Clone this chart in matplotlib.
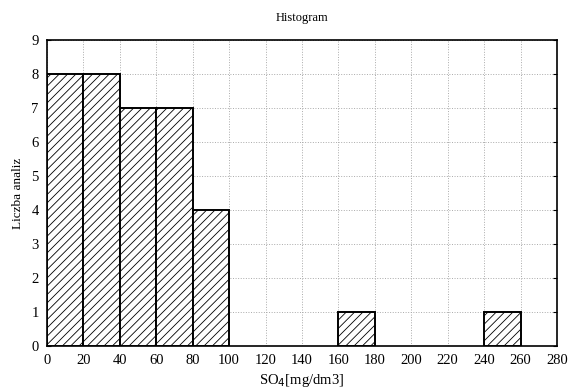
import matplotlib
matplotlib.use("Agg")
import matplotlib.pyplot as plt
import numpy as np

bin_left = [0, 20, 40, 60, 80, 100, 120, 140, 160, 180, 200, 220, 240, 260]
counts = [8, 8, 7, 7, 4, 0, 0, 0, 1, 0, 0, 0, 1, 0]
bin_width = 20
x_ticks = list(range(0, 281, 20))
y_ticks = list(range(0, 10))

plt.rcParams['font.family'] = ['Liberation Serif', 'DejaVu Serif']
plt.rcParams['hatch.linewidth'] = 0.6
plt.rcParams['hatch.color'] = '#555555'

fig = plt.figure(figsize=(5.71, 3.92), dpi=100)
ax = fig.add_axes([0.0823, 0.1173, 0.8932, 0.7807])

ax.grid(True, color='#aaaaaa', linestyle=':', linewidth=0.7)
ax.set_axisbelow(True)

bl = [b for b, c in zip(bin_left, counts) if c > 0]
cc = [c for c in counts if c > 0]
ax.bar(bl, cc, width=bin_width, align='edge', facecolor='white',
       edgecolor='black', linewidth=1.4, hatch='////', zorder=3)

ax.set_xlim(0, 280)
ax.set_ylim(0, 9)
ax.set_xticks(x_ticks)
ax.set_yticks(y_ticks)
ax.tick_params(axis='both', length=0, labelsize=10.5, pad=6)
ax.tick_params(axis='y', right=True, direction='in', length=3)
for s in ax.spines.values():
    s.set_linewidth(1.2)

ax.set_title('Histogram', fontsize=9, pad=14)
ax.set_xlabel('SO$_4$[mg/dm3]', fontsize=10.5, labelpad=3)
ax.set_ylabel('Liczba analiz', fontsize=9.5, labelpad=5)

fig.savefig('out.png', dpi=100)
